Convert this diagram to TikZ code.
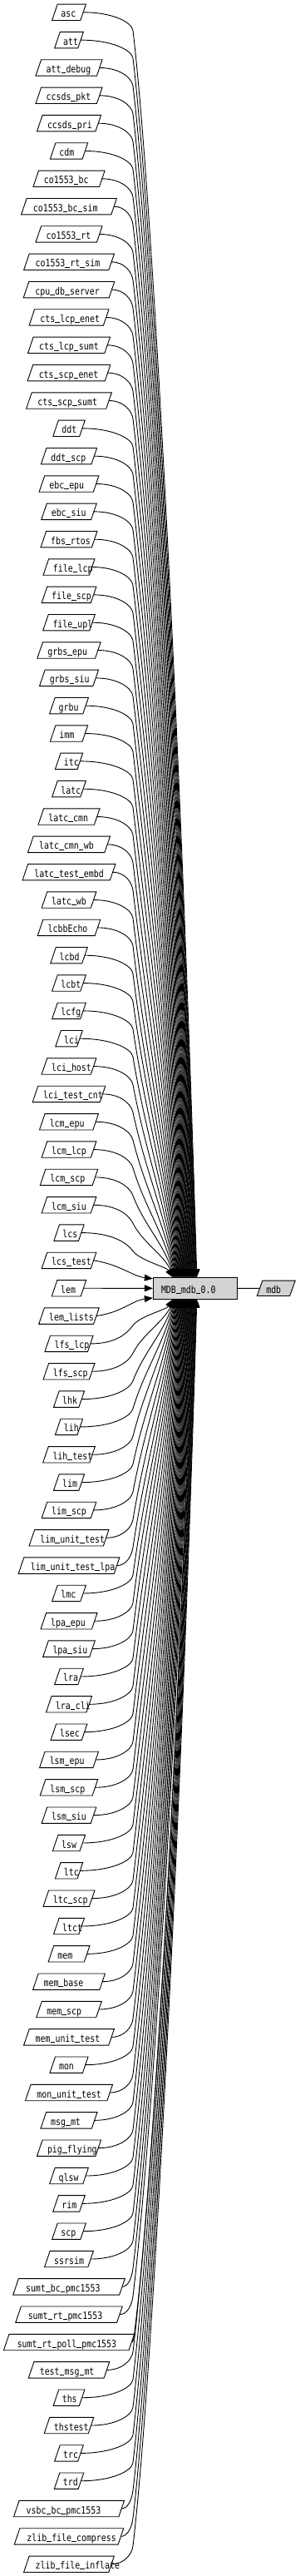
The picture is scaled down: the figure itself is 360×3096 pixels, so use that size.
\documentclass[tikz,border=0pt]{standalone}
\usepackage{fontspec}
\usetikzlibrary{arrows.meta,backgrounds}
\newfontfamily\gvfont[FakeStretch=0.826]{DejaVu Sans Mono}
\newfontfamily\gvprop{Liberation Sans}
\definecolor{gvgray}{RGB}{211,211,211}
\newlength\gvestw \newlength\gvnodew \newlength\gvtextw
\def\gvskew{3.3pt}
\newcommand\gvus{\makebox[0pt][l]{\rule[-0.6pt]{5.6pt}{0.9pt}}\hphantom{x}}
\tikzset{
 gvleaf/.style={inner sep=0pt, minimum height=19pt, text height=12pt, text depth=0pt, font=\gvfont\fontsize{12}{14}\selectfont\let\_\gvus},
 gvline/.style={draw=black, line width=0.9pt},
 gvarrow/.style={draw=black, line width=0.9pt, -{Triangle[length=10pt,width=8pt]}},
}
\newcommand\gvlabel[2]{%
 \setbox0=\hbox{\gvprop\fontsize{10}{12}\selectfont #2}%
 \global\expandafter\edef\csname gvw#1\endcsname{\the\wd0}%
 \global\expandafter\def\csname gvt#1\endcsname{#2}}
\newcommand\gvpara[2]{\path[gvline,#2] ([xshift=\gvskew]#1.north west) -- ([xshift=\gvskew]#1.north east) -- ([xshift=-\gvskew]#1.south east) -- ([xshift=-\gvskew]#1.south west) -- cycle;}
\newcommand\gvcurve[5]{%
 \pgfmathsetmacro\gvD{#2}%
 \pgfmathsetmacro\gvSg{#3}%
 \pgfmathsetmacro\gvTy{#5}%
 \pgfmathsetmacro\gvXo{24+29*(\gvD-2)/44}%
 \pgfmathsetmacro\gvXt{184.3+\gvXo}%
 \pgfmathsetmacro\gvKx{max(160,\gvSx+5)}%
 \pgfmathsetmacro\gvKy{\gvY+\gvSg*22}%
 \pgfmathsetmacro\gvL{abs(\gvTy-\gvKy)}%
 \pgfmathsetmacro\gvTk{max(0.12,1.5/\gvD)}%
 \pgfmathsetmacro\gvTf{max(0.03,1.2/\gvD)}%
 \pgfmathsetmacro\gvCa{min(200,0.35*\gvL)}%
 \pgfmathsetmacro\gvCb{0.4*\gvL}%
 \pgfmathsetmacro\gvAx{\gvSx+0.6*(\gvKx-\gvSx)}%
 \pgfmathsetmacro\gvBx{\gvKx-\gvTk*10}%
 \pgfmathsetmacro\gvBy{\gvKy-\gvSg*10}%
 \pgfmathsetmacro\gvCx{\gvKx+\gvTk*\gvCa}%
 \pgfmathsetmacro\gvCy{\gvKy+\gvSg*\gvCa}%
 \pgfmathsetmacro\gvDx{\gvXt-\gvTf*\gvCb}%
 \pgfmathsetmacro\gvDy{\gvTy-\gvSg*\gvCb}%
 \draw[gvarrow] (n#1.east) .. controls (\gvAx,\gvY) and (\gvBx,\gvBy) .. (\gvKx,\gvKy) .. controls (\gvCx,\gvCy) and (\gvDx,\gvDy) .. ([xshift=\gvXo pt]MDB.#4 west);
}
\newcommand\gvnode[1]{%
 \setlength\gvestw{\csname gvw#1\endcsname}%
 \setlength\gvnodew{1.36\gvestw}\addtolength\gvnodew{12.6pt}%
 \setlength\gvtextw{1.23\gvestw}%
 \pgfmathsetmacro\gvY{14.8+33.336*#1}%
 \node[gvleaf, minimum width=\gvnodew] (n#1) at (83,\gvY) {\makebox[\gvtextw][l]{\csname gvt#1\endcsname}};
 \gvpara{n#1}{}%
 \pgfmathsetmacro\gvSx{83+0.5*\gvnodew}%
 \ifnum#1<45 \gvcurve{#1}{46-#1}{1}{north}{1535.7}\fi
 \ifnum#1=45 \draw[gvarrow] (n#1.east) .. controls (\gvSx+30,\gvY+4) and (160,1534) .. ([yshift=-1.5pt]MDB.north west);\fi
 \ifnum#1=46 \draw[gvarrow] (n#1.east) -- (MDB.west);\fi
 \ifnum#1=47 \draw[gvarrow] (n#1.east) .. controls (\gvSx+30,\gvY-4) and (160,1562.7) .. ([yshift=1.5pt]MDB.south west);\fi
 \ifnum#1>47 \gvcurve{#1}{#1-46}{-1}{south}{1561.0}\fi
}
\AtBeginDocument{%
\gvlabel{0}{asc}
\gvlabel{1}{att}
\gvlabel{2}{att\_debug}
\gvlabel{3}{ccsds\_pkt}
\gvlabel{4}{ccsds\_pri}
\gvlabel{5}{cdm}
\gvlabel{6}{co1553\_bc}
\gvlabel{7}{co1553\_bc\_sim}
\gvlabel{8}{co1553\_rt}
\gvlabel{9}{co1553\_rt\_sim}
\gvlabel{10}{cpu\_db\_server}
\gvlabel{11}{cts\_lcp\_enet}
\gvlabel{12}{cts\_lcp\_sumt}
\gvlabel{13}{cts\_scp\_enet}
\gvlabel{14}{cts\_scp\_sumt}
\gvlabel{15}{ddt}
\gvlabel{16}{ddt\_scp}
\gvlabel{17}{ebc\_epu}
\gvlabel{18}{ebc\_siu}
\gvlabel{19}{fbs\_rtos}
\gvlabel{20}{file\_lcp}
\gvlabel{21}{file\_scp}
\gvlabel{22}{file\_upl}
\gvlabel{23}{grbs\_epu}
\gvlabel{24}{grbs\_siu}
\gvlabel{25}{grbu}
\gvlabel{26}{imm}
\gvlabel{27}{itc}
\gvlabel{28}{latc}
\gvlabel{29}{latc\_cmn}
\gvlabel{30}{latc\_cmn\_wb}
\gvlabel{31}{latc\_test\_embd}
\gvlabel{32}{latc\_wb}
\gvlabel{33}{lcbbEcho}
\gvlabel{34}{lcbd}
\gvlabel{35}{lcbt}
\gvlabel{36}{lcfg}
\gvlabel{37}{lci}
\gvlabel{38}{lci\_host}
\gvlabel{39}{lci\_test\_cnt}
\gvlabel{40}{lcm\_epu}
\gvlabel{41}{lcm\_lcp}
\gvlabel{42}{lcm\_scp}
\gvlabel{43}{lcm\_siu}
\gvlabel{44}{lcs}
\gvlabel{45}{lcs\_test}
\gvlabel{46}{lem}
\gvlabel{47}{lem\_lists}
\gvlabel{48}{lfs\_lcp}
\gvlabel{49}{lfs\_scp}
\gvlabel{50}{lhk}
\gvlabel{51}{lih}
\gvlabel{52}{lih\_test}
\gvlabel{53}{lim}
\gvlabel{54}{lim\_scp}
\gvlabel{55}{lim\_unit\_test}
\gvlabel{56}{lim\_unit\_test\_lpa}
\gvlabel{57}{lmc}
\gvlabel{58}{lpa\_epu}
\gvlabel{59}{lpa\_siu}
\gvlabel{60}{lra}
\gvlabel{61}{lra\_cli}
\gvlabel{62}{lsec}
\gvlabel{63}{lsm\_epu}
\gvlabel{64}{lsm\_scp}
\gvlabel{65}{lsm\_siu}
\gvlabel{66}{lsw}
\gvlabel{67}{ltc}
\gvlabel{68}{ltc\_scp}
\gvlabel{69}{ltct}
\gvlabel{70}{mem}
\gvlabel{71}{mem\_base}
\gvlabel{72}{mem\_scp}
\gvlabel{73}{mem\_unit\_test}
\gvlabel{74}{mon}
\gvlabel{75}{mon\_unit\_test}
\gvlabel{76}{msg\_mt}
\gvlabel{77}{pig\_flying}
\gvlabel{78}{qlsw}
\gvlabel{79}{rim}
\gvlabel{80}{scp}
\gvlabel{81}{ssrsim}
\gvlabel{82}{sumt\_bc\_pmc1553}
\gvlabel{83}{sumt\_rt\_pmc1553}
\gvlabel{84}{sumt\_rt\_poll\_pmc1553}
\gvlabel{85}{test\_msg\_mt}
\gvlabel{86}{ths}
\gvlabel{87}{thstest}
\gvlabel{88}{trc}
\gvlabel{89}{trd}
\gvlabel{90}{vsbc\_bc\_pmc1553}
\gvlabel{91}{zlib\_file\_compress}
\gvlabel{92}{zlib\_file\_inflate}
}
\begin{document}
\begin{tikzpicture}[x=1pt,y=-1pt]
\useasboundingbox (0,0) rectangle (360,3096);
\node[gvleaf, gvline, fill=gvgray, minimum width=101.4pt, minimum height=25.3pt] (MDB) at (235,1548.35) {\makebox[82pt][l]{MDB\_mdb\_0.0}};
\node[gvleaf, minimum width=39pt, minimum height=18pt] (mdbn) at (332.3,1548.3) {\makebox[24pt][l]{mdb}};
\begin{pgfonlayer}{background}
\gvpara{mdbn}{fill=gvgray}
\end{pgfonlayer}
\draw[gvline] (MDB.east) -- (mdbn.west);
\foreach \i in {0,...,92}{\gvnode{\i}}
\end{tikzpicture}
\end{document}
